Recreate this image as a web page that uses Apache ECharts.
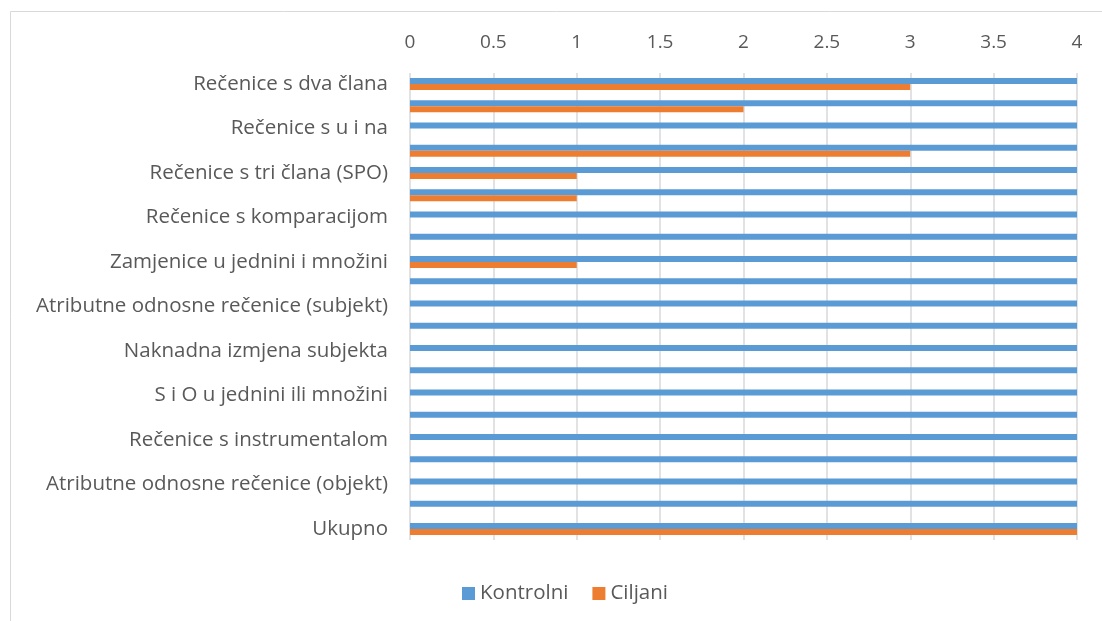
<!DOCTYPE html>
<html><head><meta charset="utf-8">
<script src="https://cdn.jsdelivr.net/npm/echarts@6/dist/echarts.min.js"></script>
<style>html,body{margin:0;padding:0;background:#fff}#c{width:1102px;height:621px}</style>
</head><body><div id="c"></div>
<script>
const categories = [
  "Rečenice s dva člana", "",
  "Rečenice s u i na", "",
  "Rečenice s tri člana (SPO)", "",
  "Rečenice s komparacijom", "",
  "Zamjenice u jednini i množini", "",
  "Atributne odnosne rečenice (subjekt)", "",
  "Naknadna izmjena subjekta", "",
  "S i O u jednini ili množini", "",
  "Rečenice s instrumentalom", "",
  "Atributne odnosne rečenice (objekt)", "",
  "Ukupno"
];
const kontrolni = [4,4,4,4,4,4,4,4,4,4,4,4,4,4,4,4,4,4,4,4,4];
const ciljani   = [3,2,0,3,1,1,0,0,1,0,0,0,0,0,0,0,0,0,0,0,4];
const seriesNames = ["Kontrolni", "Ciljani"];
const xTicks = {min: 0, max: 4, interval: 0.5};

const font = "Open Sans";
const chart = echarts.init(document.getElementById('c'), null, {renderer: 'canvas'});
chart.setOption({
  animation: false,
  textStyle: {fontFamily: font},
  graphic: [{
    type: 'rect', shape: {x: 10.5, y: 11.5, width: 1200, height: 700},
    style: {fill: 'none', stroke: '#d9d9d9', lineWidth: 1}, silent: true, z: -10
  }],
  grid: {left: 410, right: 25, top: 73, bottom: 81, containLabel: false},
  legend: {
    bottom: 12, left: 457, itemWidth: 13, itemHeight: 13, itemGap: 24,
    icon: 'rect',
    textStyle: {color: '#595959', fontSize: 20.5, fontFamily: font},
    data: seriesNames
  },
  xAxis: {
    type: 'value', position: 'top', min: xTicks.min, max: xTicks.max, interval: xTicks.interval,
    axisLine: {show: false}, axisTick: {show: false},
    axisLabel: {color: '#595959', fontSize: 19, fontFamily: font, margin: 21},
    splitLine: {show: true, lineStyle: {color: '#d9d9d9', width: 1.5}}
  },
  yAxis: {
    type: 'category', inverse: true, data: categories,
    axisLine: {show: false}, axisTick: {show: false},
    axisLabel: {color: '#595959', fontSize: 20.5, fontFamily: font, margin: 22, interval: 0}
  },
  series: [
    {name: seriesNames[0], type: 'bar', data: kontrolni, barWidth: 6, barGap: '0%',
     itemStyle: {color: '#5B9BD5'}},
    {name: seriesNames[1], type: 'bar', data: ciljani, barWidth: 6, barGap: '0%',
     itemStyle: {color: '#ED7D31'}}
  ]
});
</script></body></html>
